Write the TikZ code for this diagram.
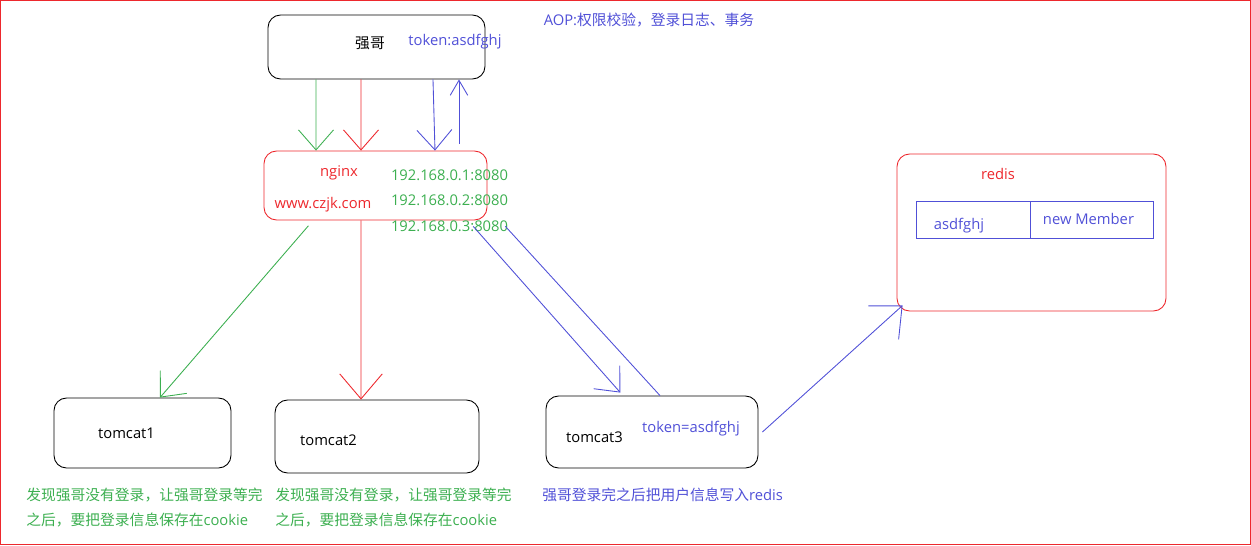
\documentclass[tikz,border=0pt]{standalone}
\usepackage{fontspec}
\setmainfont{Open Sans}
\newfontfamily\cjk{Noto Sans CJK SC}
\usetikzlibrary{arrows.meta,positioning}

\definecolor{lnred}{RGB}{237,40,45}
\definecolor{lnblue}{RGB}{80,80,215}
\definecolor{lngreen}{RGB}{60,175,80}

\begin{document}
\begin{tikzpicture}[
    x = 0.02cm, y = -0.02cm, % one unit per pixel, y going down
    > = {Straight Barb[length=4mm,width=7mm]}, % open arrow head
    line width = 0.5pt,
    font = \fontsize{8.4}{10}\selectfont
    ]

    \tikzset{box/.style={
    draw = black,
    rounded corners = 0.25cm,
    inner sep = 0pt
    }}
    \tikzset{txt/.style={inner sep = 0pt}}
    \tikzset{cell/.style={draw = lnblue, inner sep = 0pt, minimum height = 0.74cm}}

    \useasboundingbox (0,0) rectangle (1251,545);
    \draw[lnred, line width = 0.8pt] (0.5,0.5) rectangle (1250.5,544.5);

    \node[box, minimum width = 4.34cm, minimum height = 1.28cm] (qg) at (376.5,47) {};
    \node[box, draw = lnred, minimum width = 4.46cm, minimum height = 1.38cm] (nginx) at (375.5,185.5) {};
    \node[box, minimum width = 3.54cm, minimum height = 1.4cm] (tc1) at (142.5,433) {};
    \node[box, minimum width = 4.08cm, minimum height = 1.46cm] (tc2) at (377,436.5) {};
    \node[box, minimum width = 4.24cm, minimum height = 1.44cm] (tc3) at (652,432) {};
    \node[box, draw = lnred, minimum width = 5.38cm, minimum height = 3.14cm] (redis) at (1031.5,232.5) {};
    \node[cell, minimum width = 2.28cm] (key) at (973,219.5) {};
    \node[cell, minimum width = 2.46cm] (val) at (1091.5,219.5) {};

    \node[txt] (qgname) at (370,43) {\cjk 强哥};
    \node[txt, text = lnblue] (qgtoken) at (455,42) {token:asdfghj};
    \node[txt, text = lnblue] (aop) at (649,20) {AOP:{\cjk 权限校验，登录日志、事务}};
    \node[txt, text = lnred] (nginxname) at (339,173) {nginx};
    \node[txt, text = lnred] (domain) at (323,205) {www.czjk.com};
    \node[txt, text = lngreen] (ip1) at (449.5,175) {192.168.0.1:8080};
    \node[txt, text = lngreen] (ip2) at (449.5,200) {192.168.0.2:8080};
    \node[txt, text = lngreen] (ip3) at (449.5,226) {192.168.0.3:8080};
    \node[txt] (tc1name) at (126.5,433) {tomcat1};
    \node[txt] (tc2name) at (328.5,440) {tomcat2};
    \node[txt] (tc3name) at (594.5,437) {tomcat3};
    \node[txt, text = lnblue] (tc3token) at (691,429) {token=asdfghj};
    \node[txt, text = lnred] (redisname) at (998,174) {redis};
    \node[txt, text = lnblue] (keytext) at (959,226) {asdfghj};
    \node[txt, text = lnblue] (valtext) at (1088.5,219) {new Member};

    \node[txt, text = lngreen, anchor = west, align = left, font = \fontsize{8.4}{14.2}\selectfont]
        (note1) at (26,507.5) {{\cjk 发现强哥没有登录，让强哥登录等完}\\{\cjk 之后，要把登录信息保存在}cookie};
    \node[txt, text = lngreen, anchor = west, align = left, font = \fontsize{8.4}{14.2}\selectfont]
        (note2) at (275,507.5) {{\cjk 发现强哥没有登录，让强哥登录等完}\\{\cjk 之后，要把登录信息保存在}cookie};
    \node[txt, text = lnblue, anchor = west] (note3) at (542,495) {{\cjk 强哥登录完之后把用户信息写入}redis};

    \path[->, lngreen] ([xshift=-1.21cm]qg.south) edge ([xshift=-1.19cm]nginx.north);
    \path[->, lnred] ([xshift=-0.31cm]qg.south) edge ([xshift=-0.29cm]nginx.north);
    \path[->, lnblue] ([xshift=1.13cm]qg.south) edge ([xshift=1.19cm]nginx.north);
    \path[->, lnblue, shorten <=0.14cm, >={Straight Barb[length=3mm,width=3.5mm]}] ([xshift=1.67cm]nginx.north) edge ([xshift=1.65cm]qg.south);

    \path[->, lngreen, shorten <=0.14cm] ([xshift=-1.25cm]nginx.south) edge ([xshift=0.35cm]tc1.north);
    \path[->, lnred, >={Straight Barb[length=5mm,width=8.5mm]}] ([xshift=-0.29cm]nginx.south) edge ([xshift=-0.32cm]tc2.north);
    \path[->, lnblue, shorten <=0.16cm, shorten >=0.08cm] ([xshift=1.85cm]nginx.south) edge ([xshift=-0.58cm]tc3.north);
    \path[lnblue, shorten >=0.16cm] ([xshift=0.16cm]tc3.north) edge ([xshift=2.49cm]nginx.south);
    \path[->, lnblue, >={Straight Barb[length=5mm,width=9mm]}] ([xshift=0.08cm]tc3.east) edge ([xshift=0.12cm,yshift=0.12cm]redis.south west);
\end{tikzpicture}
\end{document}
